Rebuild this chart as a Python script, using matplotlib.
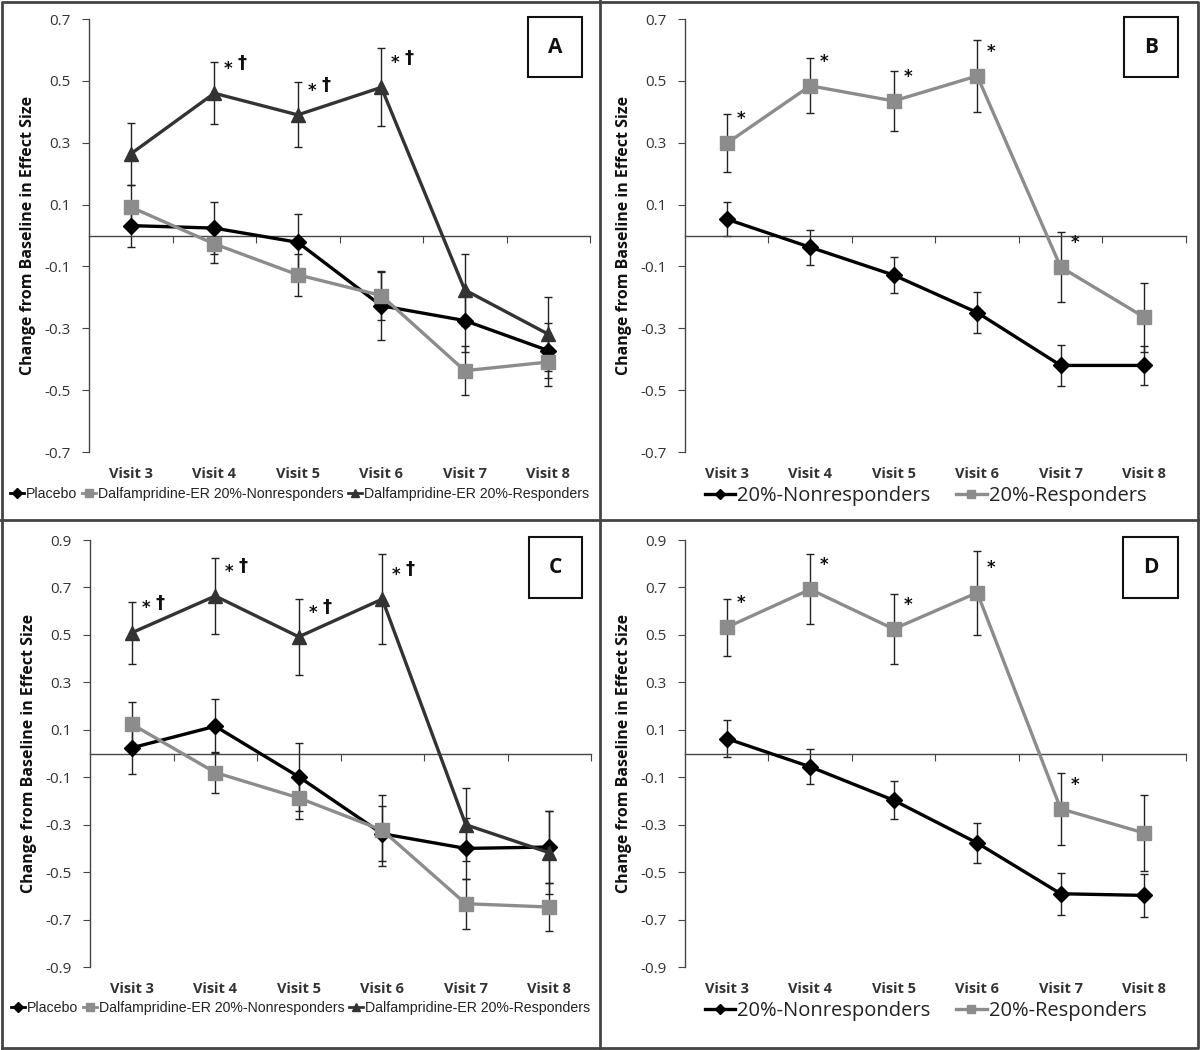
import matplotlib.pyplot as plt
from matplotlib.lines import Line2D

visits = ['Visit 3', 'Visit 4', 'Visit 5', 'Visit 6', 'Visit 7', 'Visit 8']

# panel A
a_placebo = [0.032, 0.024, -0.022, -0.227, -0.275, -0.372]
a_placebo_err = [0.07, 0.084, 0.09, 0.11, 0.10, 0.09]
a_nonresp = [0.092, -0.027, -0.127, -0.194, -0.437, -0.409]
a_nonresp_err = [0.072, 0.062, 0.067, 0.078, 0.08, 0.077]
a_resp = [0.264, 0.46, 0.39, 0.479, -0.176, -0.319]
a_resp_err = [0.10, 0.10, 0.105, 0.126, 0.116, 0.12]
a_marks = ['', '*†', '*†', '*†', '', '']

# panel B
b_nonresp = [0.053, -0.038, -0.128, -0.249, -0.42, -0.42]
b_nonresp_err = [0.055, 0.056, 0.057, 0.066, 0.066, 0.062]
b_resp = [0.298, 0.484, 0.435, 0.516, -0.102, -0.264]
b_resp_err = [0.094, 0.089, 0.097, 0.116, 0.112, 0.112]
b_marks = ['*', '*', '*', '*', '*', '']

# panel C
c_placebo = [0.024, 0.115, -0.098, -0.338, -0.40, -0.394]
c_placebo_err = [0.11, 0.114, 0.143, 0.115, 0.13, 0.15]
c_nonresp = [0.124, -0.08, -0.187, -0.323, -0.633, -0.647]
c_nonresp_err = [0.094, 0.085, 0.087, 0.15, 0.105, 0.10]
c_resp = [0.509, 0.664, 0.492, 0.651, -0.30, -0.418]
c_resp_err = [0.13, 0.162, 0.159, 0.19, 0.155, 0.175]
c_marks = ['*†', '*†', '*†', '*†', '', '']

# panel D
d_nonresp = [0.063, -0.056, -0.197, -0.377, -0.591, -0.598]
d_nonresp_err = [0.078, 0.073, 0.08, 0.085, 0.089, 0.089]
d_resp = [0.532, 0.692, 0.525, 0.678, -0.233, -0.335]
d_resp_err = [0.12, 0.148, 0.147, 0.177, 0.151, 0.159]
d_marks = ['*', '*', '*', '*', '*', '']

BLACK = '#000000'
LIGHT = '#8c8c8c'
DARK = '#333333'
TXT = '#333333'

plt.rcParams['font.family'] = ['Open Sans', 'DejaVu Sans']

fig = plt.figure(figsize=(12, 10.5), dpi=100)


def series(ax, y, err, color, marker, ms):
    x = range(len(y))
    ax.errorbar(x, y, yerr=err, fmt='none', ecolor='#222222', elinewidth=1,
                capsize=3, capthick=1, zorder=2)
    ax.plot(x, y, color=color, lw=2.4, marker=marker, ms=ms, zorder=3)


def marks(ax, y, labels):
    for i, lab in enumerate(labels):
        if not lab:
            continue
        ax.annotate('*', (i, y[i]), xytext=(7, 11), textcoords='offset points',
                    fontsize=12, fontweight='bold', color='#111111',
                    ha='left', va='bottom', family=['DejaVu Sans'])
        if '†' in lab:
            ax.annotate('†', (i, y[i]), xytext=(17, 15), textcoords='offset points',
                        fontsize=13, fontweight='bold', color='#111111',
                        ha='left', va='bottom', family=['DejaVu Sans'])


def setup(rect, lim, step_ticks, letter):
    ax = fig.add_axes(rect)
    ax.set_xlim(-0.5, 5.5)
    ax.set_ylim(-lim, lim)
    ax.spines['top'].set_visible(False)
    ax.spines['right'].set_visible(False)
    ax.spines['bottom'].set_position(('data', 0))
    for s in ['left', 'bottom']:
        ax.spines[s].set_color('#444444')
        ax.spines[s].set_linewidth(1)
    ax.set_yticks(step_ticks)
    ax.set_yticklabels(['%.1f' % t for t in step_ticks])
    ax.tick_params(axis='y', direction='out', length=5, color='#444444',
                   labelsize=11, labelcolor=TXT, pad=8)
    ax.set_xticks([i + 0.5 for i in range(6)])
    ax.set_xticklabels([])
    ax.tick_params(axis='x', direction='out', length=5, color='#444444')
    for i, v in enumerate(visits):
        ax.text(i, -0.035, v, transform=ax.get_xaxis_transform(), ha='center',
                va='top', fontsize=10.5, fontweight='bold', color=TXT)
    ax.set_ylabel('Change from Baseline in Effect Size', fontsize=11.5,
                  fontweight='bold', color='#111111', labelpad=6)
    ax.text(0.93, 0.935, letter, transform=ax.transAxes, ha='center', va='center',
            fontsize=15, fontweight='bold', color='#111111',
            bbox=dict(boxstyle='square,pad=0.95', fc='white', ec='#111111', lw=1.5))
    return ax


ticks_a = [0.7, 0.5, 0.3, 0.1, -0.1, -0.3, -0.5, -0.7]
ticks_c = [0.9, 0.7, 0.5, 0.3, 0.1, -0.1, -0.3, -0.5, -0.7, -0.9]

ax_a = setup([0.0742, 0.5695, 0.4175, 0.4124], 0.7, ticks_a, 'A')
ax_b = setup([0.5708, 0.5695, 0.4175, 0.4124], 0.7, ticks_a, 'B')
ax_c = setup([0.0750, 0.0790, 0.4175, 0.4067], 0.9, ticks_c, 'C')
ax_d = setup([0.5708, 0.0790, 0.4175, 0.4067], 0.9, ticks_c, 'D')

# three-group panels
for ax, pl, ple, nr, nre, rs, rse, mk in [
        (ax_a, a_placebo, a_placebo_err, a_nonresp, a_nonresp_err, a_resp, a_resp_err, a_marks),
        (ax_c, c_placebo, c_placebo_err, c_nonresp, c_nonresp_err, c_resp, c_resp_err, c_marks)]:
    series(ax, pl, ple, BLACK, 'D', 8)
    series(ax, nr, nre, LIGHT, 's', 10)
    series(ax, rs, rse, DARK, '^', 10)
    marks(ax, rs, mk)
    handles = [Line2D([], [], color=BLACK, marker='D', ms=5, lw=2),
               Line2D([], [], color=LIGHT, marker='s', ms=6, lw=2),
               Line2D([], [], color=DARK, marker='^', ms=6, lw=2)]
    ax.legend(handles, ['Placebo', 'Dalfampridine-ER 20%-Nonresponders',
                        'Dalfampridine-ER 20%-Responders'],
              loc='upper center', bbox_to_anchor=(0.42, -0.07), ncol=3, frameon=False,
              handlelength=1.0, handletextpad=0.15, columnspacing=0.3,
              borderaxespad=0, borderpad=0.3,
              prop={'family': ['Liberation Sans', 'DejaVu Sans'], 'size': 10.2},
              labelcolor='#222222')

# two-group panels
for ax, nr, nre, rs, rse, mk in [
        (ax_b, b_nonresp, b_nonresp_err, b_resp, b_resp_err, b_marks),
        (ax_d, d_nonresp, d_nonresp_err, d_resp, d_resp_err, d_marks)]:
    series(ax, nr, nre, BLACK, 'D', 8)
    series(ax, rs, rse, LIGHT, 's', 10)
    marks(ax, rs, mk)
    handles = [Line2D([], [], color=BLACK, marker='D', ms=5, lw=2.4),
               Line2D([], [], color=LIGHT, marker='s', ms=6, lw=2.4)]
    ax.legend(handles, ['20%-Nonresponders', '20%-Responders'],
              loc='upper center', bbox_to_anchor=(0.48, -0.065), ncol=2, frameon=False,
              handlelength=1.5, handletextpad=0.1, columnspacing=1.3,
              borderaxespad=0, borderpad=0.3,
              prop={'size': 14.5}, labelcolor='#222222')

# panel frame
frame = dict(color='#444444', lw=2, transform=fig.transFigure)
fig.add_artist(Line2D([0.002, 0.998, 0.998, 0.002, 0.002],
                      [0.002, 0.002, 0.998, 0.998, 0.002], **frame))
fig.add_artist(Line2D([0.5, 0.5], [0.0, 1.0], **frame))
fig.add_artist(Line2D([0.0, 1.0], [1 - 520 / 1050, 1 - 520 / 1050], **frame))

fig.savefig('out.png', dpi=100, facecolor='white')
